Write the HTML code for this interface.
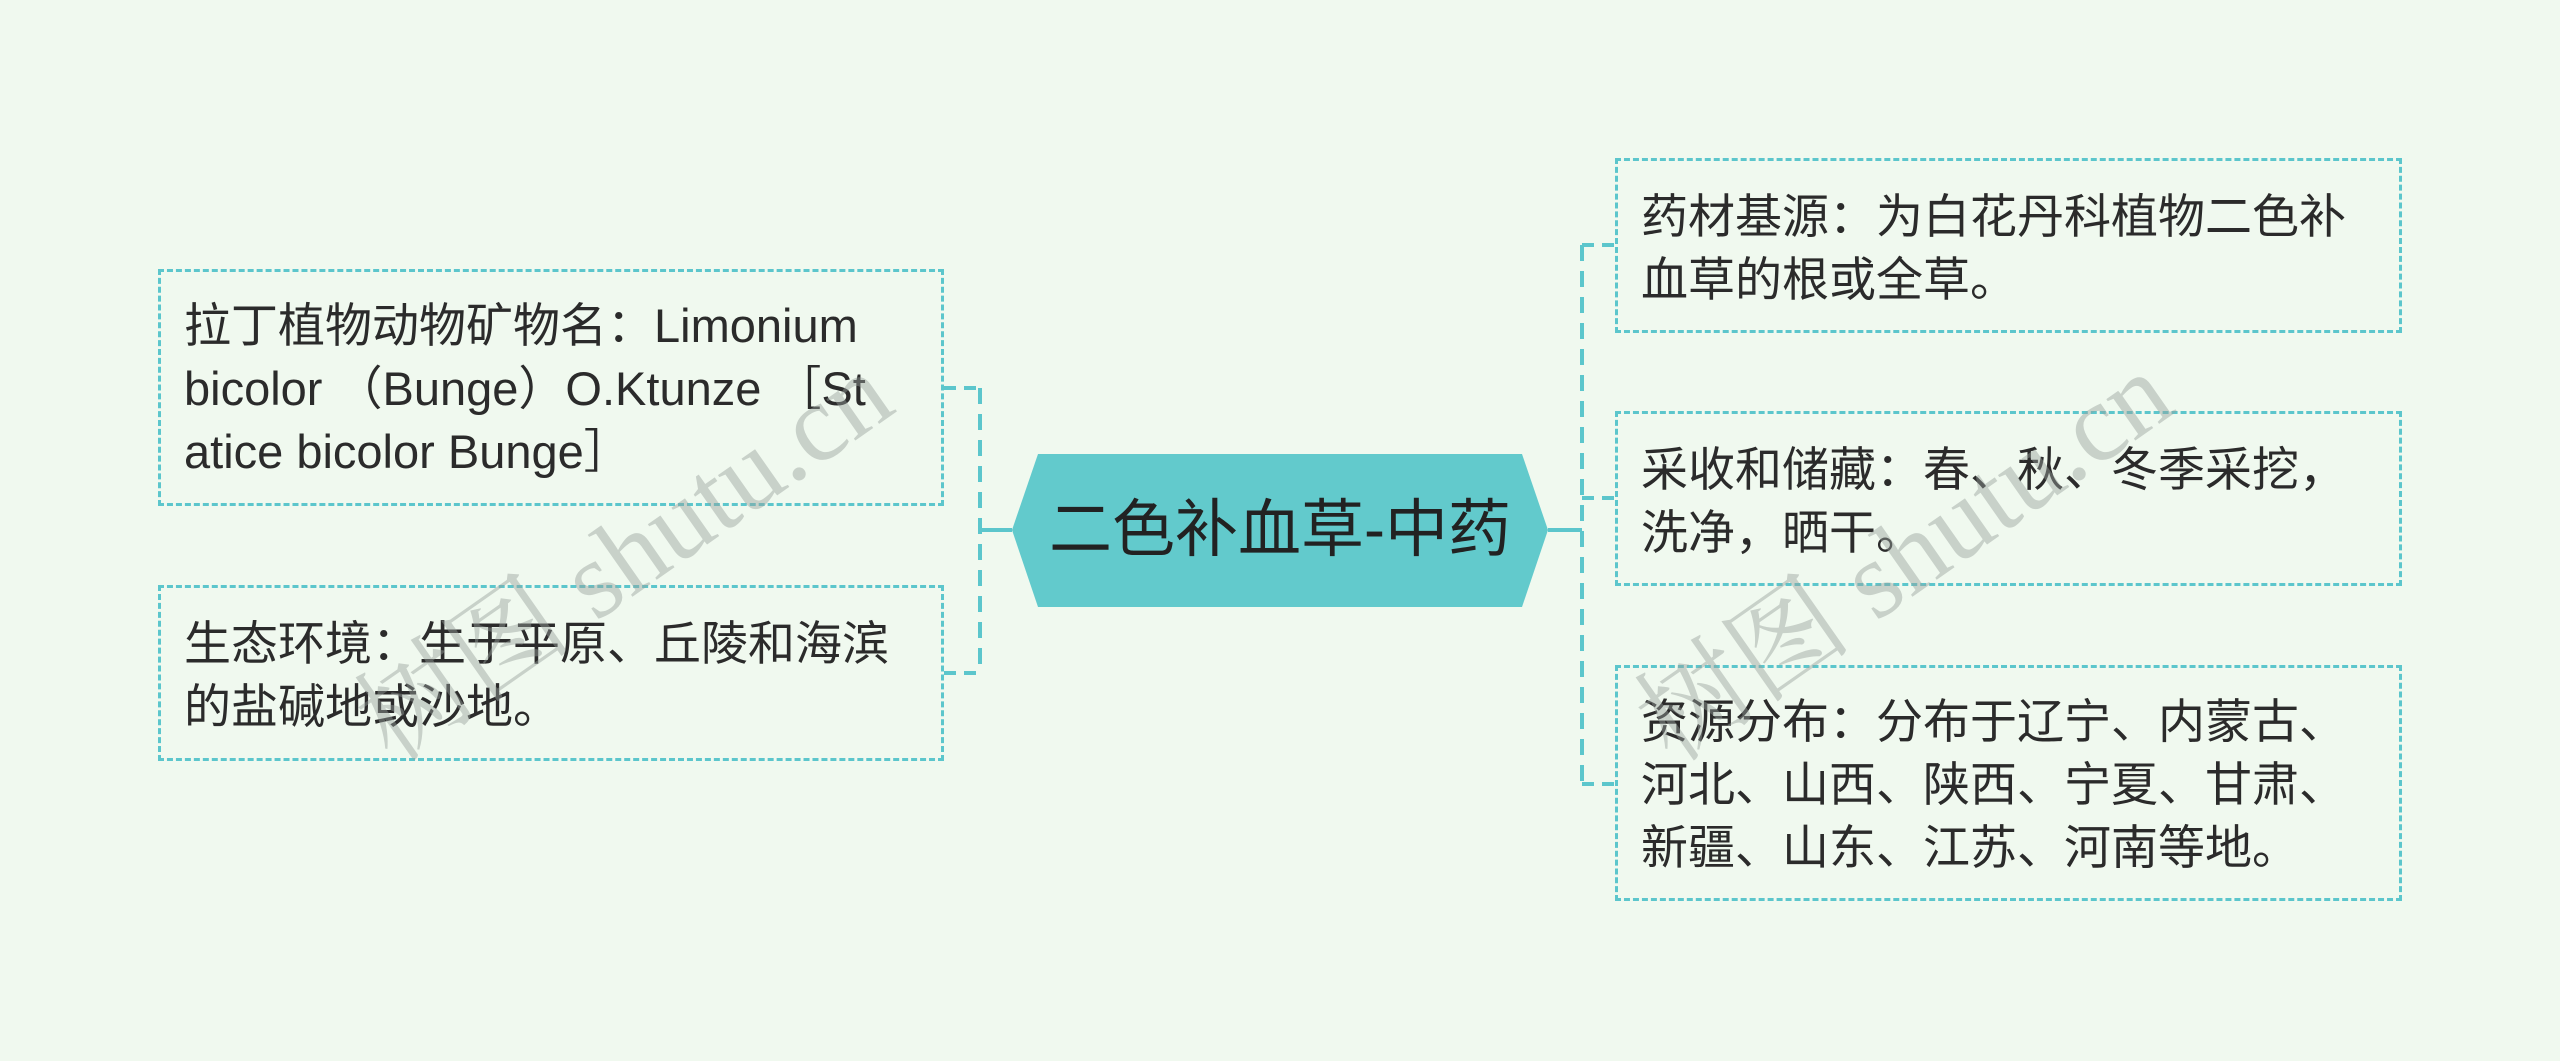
<!DOCTYPE html>
<html><head><meta charset="utf-8"><style>
body{margin:0;width:2560px;height:1061px;background:#f0f9ef;position:relative;overflow:hidden;font-family:"Liberation Sans","Noto Sans CJK SC",sans-serif;}
.b{position:absolute;border:3px dashed #5cc6cc;box-sizing:border-box;color:#2b2b2b;font-size:47px;line-height:63px;padding:0 10px 0 23px;white-space:nowrap;}
.wm{position:absolute;font-family:"Liberation Serif","Noto Serif CJK SC",serif;font-size:110px;color:rgba(150,160,155,0.45);transform:rotate(-35deg);white-space:nowrap;}
</style></head><body>
<svg width="2560" height="1061" style="position:absolute;left:0;top:0">
<polygon points="1012,530 1038,454 1522,454 1548,530 1522,607 1038,607" fill="#62cacc"/>
<g stroke="#5cc6cc" stroke-width="4" fill="none">
<line x1="980" y1="530" x2="1012" y2="530"/>
<line x1="980" y1="388" x2="980" y2="673" stroke-dasharray="16,10"/>
<line x1="944" y1="388" x2="980" y2="388" stroke-dasharray="12,8"/>
<line x1="944" y1="673" x2="980" y2="673" stroke-dasharray="12,8"/>
<line x1="1548" y1="530" x2="1582" y2="530"/>
<line x1="1582" y1="245" x2="1582" y2="784" stroke-dasharray="16,10"/>
<line x1="1582" y1="245" x2="1615" y2="245" stroke-dasharray="12,8"/>
<line x1="1582" y1="498" x2="1615" y2="498" stroke-dasharray="12,8"/>
<line x1="1582" y1="784" x2="1615" y2="784" stroke-dasharray="12,8"/>
</g>
</svg>
<div style="position:absolute;left:1012px;top:454px;width:536px;height:153px;line-height:153px;text-align:center;font-size:63px;color:#222;">二色补血草-中药</div>
<div class="b" style="left:158px;top:269px;width:786px;height:237px;padding-top:22px;">拉丁植物动物矿物名：Limonium<br>bicolor （Bunge）O.Ktunze ［St<br>atice bicolor Bunge］</div>
<div class="b" style="left:158px;top:585px;width:786px;height:176px;padding-top:24px;">生态环境：生于平原、丘陵和海滨<br>的盐碱地或沙地。</div>
<div class="b" style="left:1615px;top:158px;width:787px;height:175px;padding-top:24px;">药材基源：为白花丹科植物二色补<br>血草的根或全草。</div>
<div class="b" style="left:1615px;top:411px;width:787px;height:175px;padding-top:24px;">采收和储藏：春、秋、冬季采挖，<br>洗净，晒干。</div>
<div class="b" style="left:1615px;top:665px;width:787px;height:236px;padding-top:22px;">资源分布：分布于辽宁、内蒙古、<br>河北、山西、陕西、宁夏、甘肃、<br>新疆、山东、江苏、河南等地。</div>
<div class="wm" style="left:310px;top:470px;">树图 shutu.cn</div>
<div class="wm" style="left:1590px;top:470px;">树图 shutu.cn</div>
</body></html>
